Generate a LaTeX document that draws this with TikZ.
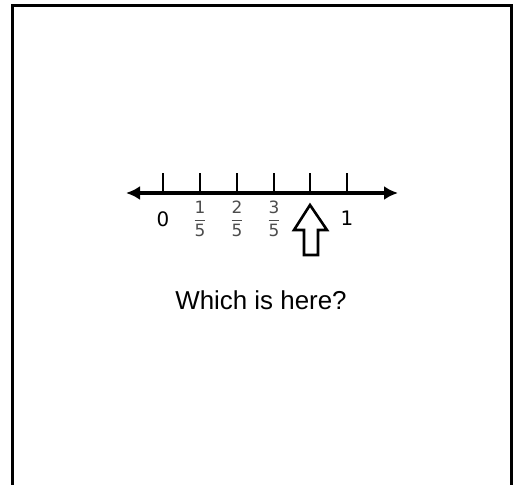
\documentclass[tikz,border=0pt]{standalone}
\usepackage{amsmath}
\usepackage{fontspec}
\setmainfont{DejaVu Sans}
\newfontfamily\questfont{Liberation Sans}
\usetikzlibrary{arrows.meta}

\tikzset{
  numlabel/.style={font=\fontsize{20}{24}\selectfont, inner sep=0pt},
  fraclabel/.style={font=\fontsize{17}{20}\selectfont, text=black!70, inner sep=0pt},
}

\begin{document}
\begin{tikzpicture}[x=1bp,y=-1bp]
\useasboundingbox (0,0) rectangle (516,485);

% frame, open at the bottom
\draw [line width=3bp] (12,485)--(12,6)--(511,6)--(511,485);

% number line
\coordinate (lend) at (126,193); \coordinate (rend) at (398,193);
\draw [line width=3bp, {Latex[length=14bp,width=14bp]}-{Latex[length=14bp,width=14bp]}] (lend)--(rend);

\draw [line width=2.2bp] (163,193)--(163,173);\draw [line width=2.2bp] (200,193)--(200,173);\draw [line width=2.2bp] (237,193)--(237,173);
\draw [line width=2.2bp] (274,193)--(274,173);\draw [line width=2.2bp] (310,193)--(310,173);\draw [line width=2.2bp] (347,193)--(347,173);

\node [numlabel] (zero) at (163,219) {0};
\node [fraclabel] (fifth) at (200,219) {$\dfrac{\text{1}}{\text{5}}$};
\node [fraclabel] (twofifths) at (237,219) {$\dfrac{\text{2}}{\text{5}}$};
\node [fraclabel] (threefifths) at (274,219) {$\dfrac{\text{3}}{\text{5}}$};
\node [numlabel] (one) at (347,218) {1};

% hollow arrow
\draw [line width=2.6bp, line join=miter] (310,205)--(327,230)--(318,230)--(318,255)--(304,255)--(304,230)--(294,230)--cycle;

\node [font=\questfont\fontsize{26}{30}\selectfont] (question) at (261,300) {Which is here?};

\end{tikzpicture}
\end{document}
